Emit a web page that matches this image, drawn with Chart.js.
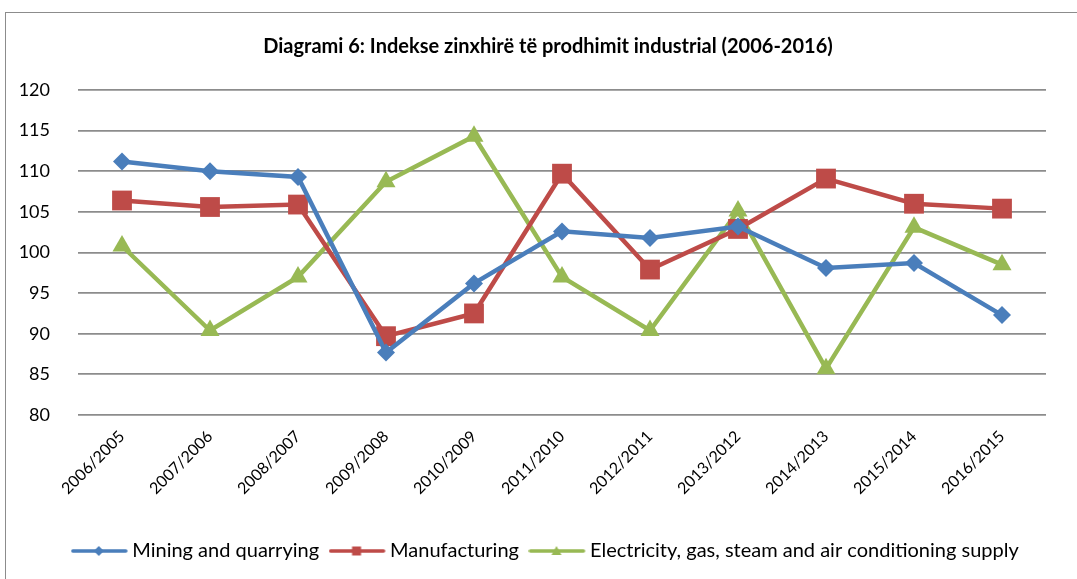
<!DOCTYPE html>
<html>
<head>
<meta charset="utf-8">
<script src="https://cdn.jsdelivr.net/npm/chart.js@4.4.1/dist/chart.umd.min.js"></script>
<style>
  html, body { margin: 0; padding: 0; background: #fff; }
  #wrap { position: relative; width: 1077px; height: 579px; overflow: hidden; }
  #frame { position: absolute; left: 5px; top: 12px; width: 1100px; height: 600px;
           border-top: 1.5px solid #8c8c8c; border-left: 1.5px solid #8c8c8c; }
  canvas { position: absolute; left: 0; top: 0; }
</style>
</head>
<body>
<div id="wrap">
  <div id="frame"></div>
  <canvas id="chart" width="1077" height="579"></canvas>
</div>
<script>
const titleText = 'Diagrami 6: Indekse zinxhirë të prodhimit industrial (2006-2016)';
const periods = ['2006/2005', '2007/2006', '2008/2007', '2009/2008', '2010/2009', '2011/2010',
                 '2012/2011', '2013/2012', '2014/2013', '2015/2014', '2016/2015'];
const mining = [111.2, 110.0, 109.3, 87.7, 96.2, 102.6, 101.8, 103.2, 98.1, 98.7, 92.3];
const manufacturing = [106.4, 105.6, 105.9, 89.7, 92.5, 109.7, 97.9, 102.9, 109.1, 106.0, 105.4];
const electricity = [100.8, 90.4, 97.0, 108.7, 114.3, 97.0, 90.4, 105.1, 85.7, 103.1, 98.5];
const seriesNames = ['Mining and quarrying', 'Manufacturing', 'Electricity, gas, steam and air conditioning supply'];
const yMin = 80, yMax = 120, yStep = 5;

const blue = '#4a7ebb', red = '#be4b48', green = '#98b954';
const font = 'Lato, "Liberation Sans", sans-serif';

// small line+marker picture for the legend
function legendIcon(color, shape) {
  const c = document.createElement('canvas');
  c.width = 58; c.height = 16;
  const g = c.getContext('2d');
  g.strokeStyle = color; g.lineWidth = 3.5; g.lineCap = 'round';
  g.beginPath(); g.moveTo(2, 8); g.lineTo(55, 8); g.stroke();
  g.fillStyle = color;
  g.beginPath();
  if (shape === 'diamond') { g.moveTo(28, 3); g.lineTo(33, 8); g.lineTo(28, 13); g.lineTo(23, 8); }
  else if (shape === 'square') { g.rect(23.5, 3.5, 9, 9); }
  else { g.moveTo(28, 3); g.lineTo(33, 12); g.lineTo(23, 12); }
  g.closePath(); g.fill();
  return c;
}
const icons = [legendIcon(blue, 'diamond'), legendIcon(red, 'square'), legendIcon(green, 'triangle')];

new Chart(document.getElementById('chart'), {
  type: 'line',
  data: {
    labels: periods,
    datasets: [
      { label: seriesNames[0], data: mining, borderColor: blue, backgroundColor: blue,
        borderWidth: 4.5, pointStyle: 'rectRot', pointRadius: 9, pointHoverRadius: 9,
        pointBorderWidth: 0, tension: 0 },
      { label: seriesNames[1], data: manufacturing, borderColor: red, backgroundColor: red,
        borderWidth: 4.5, pointStyle: 'rect', pointRadius: 14, pointHoverRadius: 14,
        pointBorderWidth: 0, tension: 0 },
      { label: seriesNames[2], data: electricity, borderColor: green, backgroundColor: green,
        borderWidth: 4.5, pointStyle: 'triangle', pointRadius: 11, pointHoverRadius: 11,
        pointBorderWidth: 0, tension: 0 }
    ]
  },
  options: {
    responsive: false,
    animation: false,
    layout: { padding: { left: 19, right: 0, top: 12, bottom: 8 } },
    plugins: {
      title: {
        display: true, text: titleText, color: '#000',
        font: { family: font, size: 20, weight: 'bold' },
        padding: { top: 23, bottom: 31 }
      },
      legend: {
        position: 'bottom',
        labels: {
          color: '#000', font: { family: font, size: 20 },
          usePointStyle: true, pointStyleWidth: 45, padding: 16,
          generateLabels: chart => chart.data.datasets.map((ds, i) => ({
            text: ds.label, pointStyle: icons[i], datasetIndex: i,
            fillStyle: ds.borderColor, strokeStyle: ds.borderColor, lineWidth: 0, hidden: false
          }))
        }
      },
      tooltip: { enabled: false }
    },
    scales: {
      y: {
        min: yMin, max: yMax,
        ticks: { stepSize: yStep, color: '#000', font: { family: font, size: 18 }, padding: 28 },
        grid: { color: '#8c8c8c', lineWidth: 1.8, drawTicks: false },
        border: { display: false },
        afterFit: s => { s.width = 59; }
      },
      // empty right-hand axis, only keeps the plot clear of the frame's right side
      spacer: {
        type: 'linear', position: 'right',
        ticks: { display: false }, grid: { display: false }, border: { display: false },
        afterFit: s => { s.width = 31; }
      },
      x: {
        offset: true,
        ticks: { color: '#000', font: { family: font, size: 16 }, minRotation: 45, maxRotation: 45, padding: 4 },
        grid: { display: false, offset: true },
        border: { display: false },
        afterFit: s => { s.height = 110; s.paddingLeft = 0; s.paddingRight = 0; }
      }
    }
  }
});
</script>
</body>
</html>
